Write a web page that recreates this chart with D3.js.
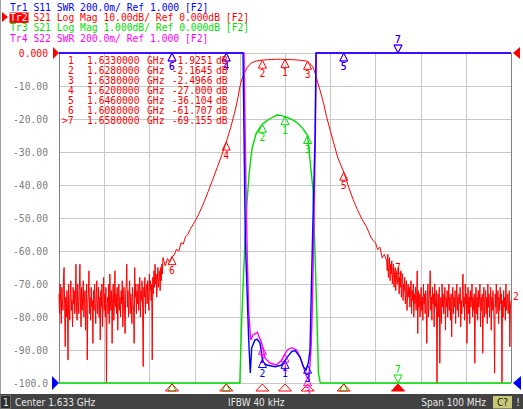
<!DOCTYPE html>
<html>
<head>
<meta charset="utf-8">
<script src="https://cdn.jsdelivr.net/npm/d3@7"></script>
<style>
body{margin:0;background:#fff;}
svg{display:block;}
.mono{font-family:"DejaVu Sans Mono",monospace;font-size:9.7px;}
.bar{font-family:"DejaVu Sans Condensed","DejaVu Sans",sans-serif;font-stretch:condensed;font-size:10px;}
</style>
</head>
<body>
<div id="chart"></div>
<script>
// stimulus
const startGHz = 1.583, stopGHz = 1.683;
const centerLabel = "Center 1.633 GHz";
const ifbwLabel = "IFBW 40 kHz";
const spanLabel = "Span 100 MHz";

const traceNames = ["Tr1", "Tr2", "Tr3", "Tr4"];
const traceSetup = [
    "S11 SWR 200.0m/ Ref 1.000 [F2]",
    "S21 Log Mag 10.00dB/ Ref 0.000dB [F2]",
    "S21 Log Mag 1.000dB/ Ref 0.000dB [F2]",
    "S22 SWR 200.0m/ Ref 1.000 [F2]"
];
const traceColors = ["#0000ff", "#ff0000", "#00dd00", "#ff00ff"];

const dbTickValues = [0, -10, -20, -30, -40, -50, -60, -70, -80, -90, -100];
const dbTickLabels = ["0.000", "-10.00", "-20.00", "-30.00", "-40.00", "-50.00",
    "-60.00", "-70.00", "-80.00", "-90.00", "-100.0"];

// S21 (Tr2 / Tr3 share it): noise floor read every 0.125 MHz
const noiseStep = 0.000125;
const s21LeftStart = 1.583;
const s21LeftNoise = [
    -73,-79,-70,-76,-82,-71,-75,-78,-68,-65,-77,-89,-74,-80,-72,-77,-93,-70,-76,-81,
    -73,-69,-78,-75,-83,-71,-76,-72,-79,-74,-64,-77,-81,-70,-75,-79,-72,-64,-76,-83,
    -71,-78,-74,-69,-80,-75,-72,-84,-77,-70,-93,-76,-73,-66,-79,-74,-81,-71,-77,-75,
    -88,-72,-78,-70,-76,-82,-73,-69,-79,-75,-71,-80,-74,-87,-72,-77,-70,-83,-75,-68,
    -78,-73,-80,-71,-100,-76,-74,-79,-70,-82,-67,-75,-78,-72,-88,-74,-70,-81,-76,-66,
    -77,-73,-79,-71,-84,-75,-70,-78,-74,-80,-72,-76,-69,-83,-75,-71,-78,-85,-73,-70,
    -64,-77,-72,-80,-74,-69,-79,-73,-76,-82,-71,-75,-78,-88,-65,-74,-70,-79,-72,-76,
    -70,-78,-73,-68,-80,-72,-75,-69,-77,-95,-71,-74,-68,-79,-72,-70,-76,-69,-73,-78,
    -67,-72,-69,-75,-70,-93,-68,-73,-66,-71,-64,-70,-67,-74,-69,-65,-71,-68,-66,-72,
    -65,-69,-64,-67,-62
];
const s21BandFreq = [
    1.6065,1.607,1.6075,1.608,1.6085,1.609,1.6095,1.610,1.6105,1.611,
    1.6115,1.612,1.613,1.614,1.615,1.616,1.617,1.618,1.619,1.620,
    1.621,1.622,1.6226,1.623,1.6234,1.6238,1.6242,1.6246,1.6251,1.6257,
    1.6266,1.6275,1.628,1.629,1.630,1.6312,1.632,1.633,1.634,1.635,
    1.636,1.637,1.638,1.6385,1.6392,1.6396,1.640,1.6404,1.6408,1.6415,
    1.6422,1.643,1.6436,1.6447,1.646,1.647,1.6481,1.649,1.650,1.651,
    1.652,1.6524,1.653,1.6535,1.654,1.6545,1.655
];
const s21BandDb = [
    -64.5,-62.3,-63.4,-61.7,-61.2,-59.4,-60.1,-57.5,-57.9,-55.6,
    -55.0,-53.5,-51.2,-48.6,-45.5,-42.0,-38.4,-34.7,-31.0,-27.0,
    -22.5,-17.3,-13.5,-10.3,-8.2,-6.8,-5.6,-4.5,-3.6,-2.9,
    -2.45,-2.25,-2.16,-2.05,-1.97,-1.88,-1.89,-1.93,-1.98,-2.05,
    -2.15,-2.30,-2.50,-3.2,-4.15,-5.9,-7.7,-9.7,-11.5,-15.0,
    -19.3,-23.4,-26.4,-31.8,-36.1,-40.3,-44.5,-47.4,-50.3,-52.6,
    -55.8,-56.7,-57.4,-59.6,-58.8,-62.1,-61.0
];
const s21RightStart = 1.6555;
const s21RightNoise = [
    -63,-66,-61,-68,-65,-62,-69,-64,-67,-63,-70,-66,-64,-71,-67,-65,-72,-68,-66,-70,
    -69,-65,-73,-68,-71,-66,-74,-69,-67,-75,-70,-72,-68,-76,-71,-69,-78,-72,-70,-74,
    -71,-77,-73,-69,-79,-72,-75,-70,-80,-73,-76,-71,-78,-74,-66,-85,-72,-77,-73,-80,
    -75,-71,-78,-74,-81,-70,-76,-73,-79,-72,-77,-88,-74,-70,-80,-75,-72,-66,-78,-74,
    -81,-71,-76,-73,-83,-70,-77,-75,-72,-100,-78,-73,-80,-71,-94,-76,-74,-82,-70,-77,
    -73,-79,-75,-71,-84,-74,-77,-72,-80,-76,-70,-78,-74,-81,-73,-86,-75,-71,-79,-74,
    -77,-72,-82,-75,-70,-78,-74,-80,-73,-76,-71,-83,-75,-79,-72,-67,-77,-74,-81,-70,
    -76,-73,-88,-75,-71,-79,-74,-82,-72,-77,-75,-70,-80,-74,-78,-73,-94,-76,-71,-79,
    -74,-81,-72,-77,-75,-70,-83,-74,-78,-73,-91,-76,-71,-80,-75,-72,-79,-74,-82,-70,
    -77,-73,-80,-75,-71,-84,-74,-78,-72,-76,-81,-97,-73,-77,-70,-79,-75,-72,-82,-74,
    -78,-71,-76,-73,-100,-75,-80,-72,-77,-74,-81,-70,-78,-75,-73,-79,-76,-72,-89,-77,-75
];

// S11 (Tr1) and S22 (Tr4) SWR, off-scale outside the passband
const s11Freq = [1.583,1.6236,1.62371,1.62422,1.62497,1.62532,1.62563,1.62636,1.62687,1.62747,
    1.62807,1.62895,1.63079,1.63227,1.63338,1.63448,1.63521,1.63632,1.63705,1.63765,
    1.63816,1.63853,1.63891,1.63926,1.63964,1.63986,1.6400,1.683];
const s11Swr = [4.0,3.6,3.0,1.867,1.261,1.061,1.212,1.261,1.265,1.242,
    1.129,1.109,1.099,1.109,1.152,1.190,1.196,1.159,1.099,1.079,
    1.121,1.200,1.667,2.067,2.473,3.0,3.6,4.0];
const s22Freq = [1.583,1.6238,1.62393,1.62437,1.62466,1.62497,1.62541,1.62592,1.62687,1.62784,
    1.62857,1.62968,1.63101,1.63211,1.63351,1.63448,1.63559,1.63670,1.63765,1.63816,
    1.63853,1.63882,1.63909,1.63942,1.63970,1.63993,1.6401,1.683];
const s22Swr = [4.0,3.6,3.0,2.17,1.758,1.436,1.261,1.291,1.307,1.242,
    1.152,1.121,1.109,1.133,1.200,1.214,1.200,1.129,1.048,1.024,
    1.109,1.242,1.503,1.988,2.473,3.0,3.6,4.0];

// markers
const markerFreq = [1.633, 1.628, 1.638, 1.620, 1.646, 1.608, 1.658];
const markerDb = [-1.9251, -2.1645, -2.4966, -27.000, -36.104, -61.707, -69.155];
const activeMarker = 7;

document.addEventListener("DOMContentLoaded", setup)

function setup(){
    const s21 = [];
    s21LeftNoise.forEach((v, i) => s21.push([s21LeftStart + i * noiseStep, v]));
    s21BandFreq.forEach((f, i) => s21.push([f, s21BandDb[i]]));
    s21RightNoise.forEach((v, i) => s21.push([s21RightStart + i * noiseStep, v]));
    const s11 = s11Freq.map((f, i) => [f, s11Swr[i]]);
    const s22 = s22Freq.map((f, i) => [f, s22Swr[i]]);
    drawChart(s21, s11, s22);
}

function interp(data, f){
    const i = d3.bisector(d => d[0]).left(data, f);
    if (i <= 0) return data[0][1];
    if (i >= data.length) return data[data.length - 1][1];
    const a = data[i - 1], b = data[i];
    return a[1] + (b[1] - a[1]) * (f - a[0]) / (b[0] - a[0]);
}

function drawChart(s21, s11, s22){
    const width = 523, height = 409;
    const plot = {left: 59, right: 511, top: 53, bottom: 383};
    const svg = d3.select("#chart").append("svg")
        .attr("width", width)
        .attr("height", height);

    const x = d3.scaleLinear().domain([startGHz, stopGHz]).range([plot.left, plot.right]);
    const yLog10 = d3.scaleLinear().domain([-100, 0]).range([plot.bottom, plot.top]).clamp(true);
    const yLog1 = d3.scaleLinear().domain([-10, 0]).range([plot.bottom, plot.top]).clamp(true);
    const ySwr = d3.scaleLinear().domain([1, 3]).range([plot.bottom, plot.top]).clamp(true);

    // outer border
    svg.append("line").attr("x1", 0.5).attr("x2", 0.5).attr("y1", 0).attr("y2", 394)
        .attr("stroke", "#a0a0a0");

    // grid
    const grid = svg.append("g").attr("stroke", "#c8c8c8").attr("stroke-width", 1);
    d3.range(1, 10).forEach(i => {
        const gx = Math.round(x(startGHz + i * (stopGHz - startGHz) / 10)) + 0.5;
        grid.append("line").attr("x1", gx).attr("x2", gx)
            .attr("y1", plot.top).attr("y2", plot.bottom);
    });
    dbTickValues.forEach(v => {
        const gy = Math.round(yLog10(v)) + 0.5;
        grid.append("line").attr("x1", plot.left).attr("x2", plot.right)
            .attr("y1", gy).attr("y2", gy);
    });
    svg.append("g").attr("stroke", "#808080")
        .selectAll("line").data([plot.left, plot.right]).enter().append("line")
        .attr("x1", d => d + 0.5).attr("x2", d => d + 0.5)
        .attr("y1", plot.top).attr("y2", plot.bottom);

    // y axis labels (Tr2 scale)
    const axis = svg.append("g")
        .attr("transform", "translate(" + plot.left + ",0)")
        .call(d3.axisLeft(yLog10).tickValues(dbTickValues)
            .tickFormat((d, i) => dbTickLabels[i]).tickSize(0).tickPadding(11));
    axis.select(".domain").remove();
    axis.selectAll("text")
        .attr("class", "mono")
        .attr("font-family", null).attr("font-size", null)
        .attr("fill", (d, i) => i === 0 ? "#ff0000" : "#808080");

    // traces
    const line = (y) => d3.line().x(d => x(d[0])).y(d => y(d[1]));
    svg.append("path").datum(s21).attr("d", line(yLog10))
        .attr("fill", "none").attr("stroke", traceColors[1]).attr("stroke-width", 1);
    svg.append("path").datum(s21).attr("d", line(yLog1))
        .attr("fill", "none").attr("stroke", traceColors[2]).attr("stroke-width", 1.4);
    svg.append("path").datum(s22).attr("d", line(ySwr))
        .attr("fill", "none").attr("stroke", traceColors[3]).attr("stroke-width", 1.4);
    svg.append("path").datum(s11).attr("d", line(ySwr))
        .attr("fill", "none").attr("stroke", traceColors[0]).attr("stroke-width", 1.4);

    // markers
    const mk = svg.append("g");
    function marker(f, y, n, color, active){
        const mx = x(f);
        const showLabel = y < plot.bottom - 0.5 || active;
        if (active) {
            mk.append("path").attr("d", `M${mx},${y}l-4,-8l8,0z`)
                .attr("fill", "none").attr("stroke", color);
            mk.append("text").attr("class", "mono").attr("x", mx).attr("y", y - 10)
                .attr("text-anchor", "middle").attr("fill", color).text(n);
        } else {
            mk.append("path").attr("d", `M${mx},${y}l-4,8l8,0z`)
                .attr("fill", "none").attr("stroke", color);
            if (showLabel)
                mk.append("text").attr("class", "mono").attr("x", mx).attr("y", y + 17)
                    .attr("text-anchor", "middle").attr("fill", color).text(n);
        }
    }
    markerFreq.forEach((f, i) => {
        const n = i + 1, act = n === activeMarker;
        marker(f, yLog1(interp(s21, f)), n, traceColors[2], act);
        marker(f, ySwr(interp(s22, f)), n, traceColors[3], act);
        marker(f, ySwr(interp(s11, f)), n, traceColors[0], act);
        marker(f, yLog10(markerDb[i]), n, traceColors[1], act);
    });

    // stimulus indicators below the grid
    markerFreq.forEach((f, i) => {
        const mx = x(f), act = i + 1 === activeMarker;
        svg.append("path").attr("d", `M${mx},384l-6.5,7l13,0z`)
            .attr("fill", act ? "#ff0000" : "none").attr("stroke", "#ff0000");
    });

    // reference position arrows
    const arrows = [
        {d: `M${plot.left},${plot.top}l-6,-6l0,12z`, c: traceColors[1]},
        {d: `M${plot.left},${plot.bottom}l-7,-7l0,14z`, c: traceColors[0]},
        {d: `M${plot.right + 2},${plot.top}l7,-6l0,12z`, c: traceColors[1]},
        {d: `M${plot.right + 2},${plot.bottom}l8,-7l0,14z`, c: traceColors[0]}
    ];
    svg.selectAll(".arrow").data(arrows).enter().append("path")
        .attr("d", d => d.d).attr("fill", d => d.c);
    svg.append("text").attr("class", "mono").attr("x", 513).attr("y", 300)
        .attr("fill", traceColors[1]).text("2");

    // marker table
    const table = svg.append("g").attr("class", "mono").attr("fill", "#ff0000");
    markerFreq.forEach((f, i) => {
        const by = 63.5 + i * 10;
        const n = i + 1;
        table.append("text").attr("x", n === activeMarker ? 62 : 68).attr("y", by)
            .text(n === activeMarker ? ">" + n : n);
        table.append("text").attr("x", 87).attr("y", by).text(f.toFixed(7));
        table.append("text").attr("x", 147).attr("y", by).text("GHz");
        table.append("text").attr("x", 212.5).attr("y", by).attr("text-anchor", "end")
            .text(Math.abs(markerDb[i]) >= 10 ? markerDb[i].toFixed(3) : markerDb[i].toFixed(4));
        table.append("text").attr("x", 216).attr("y", by).text("dB");
    });

    // trace titles
    traceNames.forEach((t, i) => {
        const by = 10.5 + i * 10.4;
        if (i === 1) {
            svg.append("rect").attr("x", 9.5).attr("y", by - 8.5).attr("width", 19).attr("height", 10.5)
                .attr("fill", traceColors[1]);
            svg.append("path").attr("d", `M2,${by - 9}l6,5l-6,5z`).attr("fill", traceColors[1]);
        }
        svg.append("text").attr("class", "mono").attr("x", 10).attr("y", by)
            .attr("fill", i === 1 ? "#ffffff" : traceColors[i]).text(t);
        svg.append("text").attr("class", "mono").attr("x", 33.4).attr("y", by)
            .attr("fill", traceColors[i]).text(traceSetup[i]);
    });

    // status bar
    const bar = svg.append("g").attr("class", "bar");
    bar.append("rect").attr("x", 0).attr("y", 394).attr("width", width).attr("height", 15)
        .attr("fill", "#424242");
    bar.append("rect").attr("x", 0.5).attr("y", 395.5).attr("width", 10).attr("height", 13)
        .attr("fill", "#2e2e2e").attr("stroke", "#6a6a6a");
    bar.append("text").attr("x", 3).attr("y", 406).attr("fill", "#e6e6e6").text("1");
    bar.append("text").attr("x", 15).attr("y", 406).attr("fill", "#e6e6e6").text(centerLabel);
    bar.append("text").attr("x", 228).attr("y", 406).attr("fill", "#e6e6e6").text(ifbwLabel);
    bar.append("text").attr("x", 486).attr("y", 406).attr("text-anchor", "end")
        .attr("fill", "#e6e6e6").text(spanLabel);
    bar.append("rect").attr("x", 493).attr("y", 396).attr("width", 19).attr("height", 12.5)
        .attr("fill", "#c8c878");
    bar.append("text").attr("x", 502.5).attr("y", 406).attr("text-anchor", "middle")
        .attr("fill", "#202020").text("C?");
    bar.append("text").attr("x", 518).attr("y", 406).attr("text-anchor", "middle")
        .attr("fill", "#e6e6e6").text("!");
}
</script>
</body>
</html>
